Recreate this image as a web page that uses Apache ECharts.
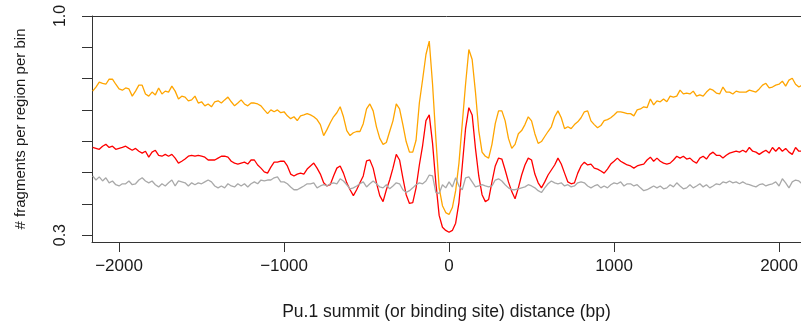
<!DOCTYPE html>
<html>
<head>
<meta charset="utf-8">
<script src="https://cdn.jsdelivr.net/npm/echarts@6/dist/echarts.min.js"></script>
<style>
  html, body { margin: 0; padding: 0; background: #ffffff; }
  #chart { width: 801px; height: 326px; }
</style>
</head>
<body>
<div id="chart"></div>
<script>
// Bin layout: 20 bp bins, first bin centred at -2160 bp
const binStart = -2160;
const binWidth = 20;

// Average fragment counts per region per bin, one value per bin
const orangeCounts = [
  0.760,0.773,0.789,0.785,0.782,0.798,0.798,0.782,0.767,0.763,
  0.770,0.767,0.744,0.760,0.779,0.779,0.751,0.744,0.757,0.748,
  0.770,0.751,0.760,0.757,0.776,0.760,0.735,0.744,0.741,0.729,
  0.732,0.744,0.722,0.726,0.713,0.719,0.710,0.726,0.729,0.722,
  0.732,0.741,0.726,0.713,0.722,0.732,0.719,0.713,0.722,0.722,
  0.719,0.713,0.700,0.688,0.700,0.694,0.700,0.691,0.694,0.681,
  0.672,0.678,0.666,0.681,0.684,0.688,0.684,0.678,0.669,0.653,
  0.618,0.637,0.659,0.678,0.691,0.710,0.678,0.634,0.618,0.627,
  0.631,0.631,0.656,0.703,0.719,0.697,0.646,0.609,0.590,0.596,
  0.631,0.665,0.719,0.703,0.653,0.599,0.565,0.565,0.603,0.722,
  0.798,0.877,0.920,0.782,0.609,0.451,0.394,0.372,0.366,0.388,
  0.442,0.530,0.656,0.782,0.893,0.861,0.757,0.634,0.565,0.552,
  0.546,0.590,0.656,0.697,0.697,0.665,0.609,0.577,0.590,0.624,
  0.634,0.653,0.678,0.665,0.624,0.593,0.599,0.615,0.631,0.646,
  0.678,0.697,0.675,0.640,0.646,0.640,0.653,0.662,0.675,0.694,
  0.697,0.665,0.653,0.643,0.650,0.666,0.669,0.675,0.684,0.694,
  0.694,0.691,0.688,0.688,0.681,0.700,0.703,0.710,0.707,0.735,
  0.716,0.729,0.726,0.735,0.726,0.744,0.741,0.744,0.763,0.751,
  0.754,0.751,0.760,0.744,0.748,0.744,0.757,0.767,0.763,0.754,
  0.751,0.773,0.757,0.757,0.751,0.760,0.757,0.757,0.757,0.763,
  0.760,0.757,0.767,0.779,0.785,0.770,0.773,0.779,0.782,0.792,
  0.776,0.795,0.801,0.782,0.773,0.779
];

const redCounts = [
  0.580,0.577,0.574,0.584,0.590,0.580,0.584,0.574,0.577,0.580,
  0.584,0.577,0.571,0.577,0.568,0.562,0.568,0.549,0.565,0.571,
  0.555,0.552,0.558,0.552,0.558,0.546,0.530,0.536,0.543,0.552,
  0.555,0.552,0.555,0.552,0.549,0.540,0.540,0.540,0.546,0.552,
  0.552,0.549,0.536,0.530,0.527,0.530,0.533,0.527,0.540,0.540,
  0.524,0.514,0.502,0.498,0.517,0.533,0.533,0.536,0.536,0.521,
  0.495,0.489,0.495,0.498,0.495,0.511,0.521,0.530,0.514,0.495,
  0.467,0.457,0.461,0.489,0.514,0.521,0.498,0.467,0.445,0.426,
  0.445,0.467,0.489,0.537,0.540,0.514,0.467,0.426,0.407,0.445,
  0.476,0.514,0.558,0.540,0.483,0.429,0.401,0.404,0.451,0.524,
  0.587,0.666,0.684,0.593,0.467,0.363,0.325,0.315,0.309,0.315,
  0.338,0.404,0.521,0.640,0.707,0.684,0.577,0.489,0.429,0.407,
  0.414,0.470,0.521,0.546,0.543,0.508,0.470,0.439,0.416,0.451,
  0.492,0.524,0.546,0.540,0.495,0.467,0.451,0.470,0.492,0.508,
  0.524,0.546,0.527,0.498,0.470,0.464,0.467,0.498,0.521,0.533,
  0.524,0.527,0.514,0.511,0.505,0.498,0.511,0.527,0.536,0.546,
  0.536,0.530,0.524,0.521,0.514,0.521,0.524,0.527,0.540,0.549,
  0.536,0.546,0.536,0.530,0.527,0.530,0.540,0.552,0.546,0.552,
  0.543,0.546,0.536,0.530,0.546,0.552,0.543,0.558,0.565,0.555,
  0.555,0.546,0.555,0.562,0.565,0.568,0.565,0.571,0.565,0.580,
  0.568,0.565,0.558,0.565,0.571,0.562,0.580,0.568,0.580,0.568,
  0.577,0.565,0.558,0.580,0.568,0.568
];

const greyCounts = [
  0.489,0.476,0.486,0.473,0.483,0.467,0.473,0.461,0.457,0.464,
  0.464,0.473,0.461,0.464,0.476,0.483,0.473,0.467,0.473,0.461,
  0.454,0.464,0.457,0.467,0.476,0.457,0.473,0.470,0.467,0.457,
  0.467,0.461,0.467,0.464,0.470,0.476,0.470,0.457,0.451,0.457,
  0.451,0.464,0.457,0.454,0.464,0.457,0.464,0.454,0.464,0.470,
  0.464,0.476,0.473,0.476,0.476,0.483,0.486,0.470,0.470,0.464,
  0.454,0.445,0.445,0.451,0.457,0.464,0.464,0.467,0.451,0.457,
  0.461,0.457,0.464,0.467,0.464,0.480,0.473,0.461,0.448,0.451,
  0.457,0.464,0.470,0.454,0.464,0.473,0.464,0.454,0.451,0.461,
  0.448,0.457,0.467,0.464,0.445,0.436,0.442,0.451,0.461,0.467,
  0.464,0.473,0.492,0.489,0.436,0.433,0.461,0.451,0.470,0.454,
  0.483,0.457,0.445,0.483,0.486,0.470,0.454,0.457,0.461,0.457,
  0.454,0.457,0.476,0.480,0.473,0.461,0.451,0.445,0.445,0.448,
  0.451,0.454,0.461,0.457,0.451,0.442,0.436,0.451,0.464,0.473,
  0.467,0.464,0.467,0.457,0.461,0.454,0.457,0.467,0.470,0.467,
  0.457,0.451,0.457,0.461,0.451,0.457,0.451,0.461,0.467,0.464,
  0.470,0.457,0.464,0.464,0.457,0.461,0.451,0.442,0.445,0.451,
  0.457,0.451,0.457,0.448,0.451,0.461,0.454,0.467,0.457,0.448,
  0.451,0.461,0.451,0.457,0.464,0.454,0.461,0.451,0.457,0.464,
  0.461,0.470,0.467,0.473,0.467,0.470,0.464,0.470,0.464,0.461,
  0.457,0.454,0.461,0.464,0.457,0.461,0.464,0.470,0.457,0.480,
  0.467,0.451,0.470,0.476,0.473,0.464
];

// Axis ticks and labels
const xTicks = [-2000, -1000, 0, 1000, 2000];
const yTicks = [0.3, 0.4, 0.5, 0.6, 0.7, 0.8, 0.9, 1.0];
const yLabels = [0.3, 1.0];

const xTitle = 'Pu.1 summit (or binding site) distance (bp)';
const yTitle = '# fragments per region per bin';

function toPairs(values) {
  return values.map((v, i) => [binStart + i * binWidth, v]);
}

const fontFamily = '"Liberation Sans", Arial, Helvetica, sans-serif';
const inkColor = '#1a1a1a';
const axisColor = '#333333';

// The plot region runs off the right edge of the canvas
const xMin = -2164;
const xMax = 2133;

const chart = echarts.init(document.getElementById('chart'), null, { renderer: 'canvas' });

chart.setOption({
  animation: false,
  backgroundColor: '#ffffff',
  grid: { left: 92, top: 16, right: 0, height: 229, containLabel: false },
  xAxis: [
    {
      type: 'value',
      min: xMin,
      max: xMax,
      position: 'bottom',
      axisLine: { show: true, onZero: false, lineStyle: { color: axisColor, width: 1 } },
      axisTick: { show: true, customValues: xTicks, length: 10, lineStyle: { color: axisColor, width: 1 } },
      axisLabel: {
        show: true,
        customValues: xTicks,
        margin: 16,
        fontSize: 17,
        fontFamily: fontFamily,
        color: inkColor,
        formatter: v => String(v).replace('-', '\u2212')
      },
      splitLine: { show: false },
      name: xTitle,
      nameLocation: 'middle',
      nameGap: 61,
      nameTextStyle: { fontSize: 17.5, fontFamily: fontFamily, color: inkColor }
    },
    {
      type: 'value',
      min: xMin,
      max: xMax,
      position: 'top',
      axisLine: { show: true, onZero: false, lineStyle: { color: axisColor, width: 1 } },
      axisTick: { show: false },
      axisLabel: { show: false },
      splitLine: { show: false }
    }
  ],
  yAxis: {
    type: 'value',
    min: 0.278,
    max: 1.0,
    axisLine: { show: true, onZero: false, lineStyle: { color: axisColor, width: 1 } },
    axisTick: { show: true, customValues: yTicks, length: 10, lineStyle: { color: axisColor, width: 1 } },
    axisLabel: {
      show: true,
      customValues: yLabels,
      rotate: 90,
      margin: 23,
      fontSize: 16,
      fontFamily: fontFamily,
      color: inkColor,
      formatter: v => Number(v).toFixed(1)
    },
    splitLine: { show: false },
    name: yTitle,
    nameLocation: 'middle',
    nameGap: 64,
    nameRotate: 90,
    nameTextStyle: { fontSize: 15, fontFamily: fontFamily, color: inkColor }
  },
  series: [
    {
      name: 'orange',
      type: 'line',
      data: toPairs(orangeCounts),
      showSymbol: false,
      lineStyle: { color: '#FFA500', width: 1.3 },
      itemStyle: { color: '#FFA500' }
    },
    {
      name: 'red',
      type: 'line',
      data: toPairs(redCounts),
      showSymbol: false,
      lineStyle: { color: '#FF0000', width: 1.3 },
      itemStyle: { color: '#FF0000' }
    },
    {
      name: 'grey',
      type: 'line',
      data: toPairs(greyCounts),
      showSymbol: false,
      lineStyle: { color: '#A9A9A9', width: 1.3 },
      itemStyle: { color: '#A9A9A9' }
    }
  ]
});
</script>
</body>
</html>
